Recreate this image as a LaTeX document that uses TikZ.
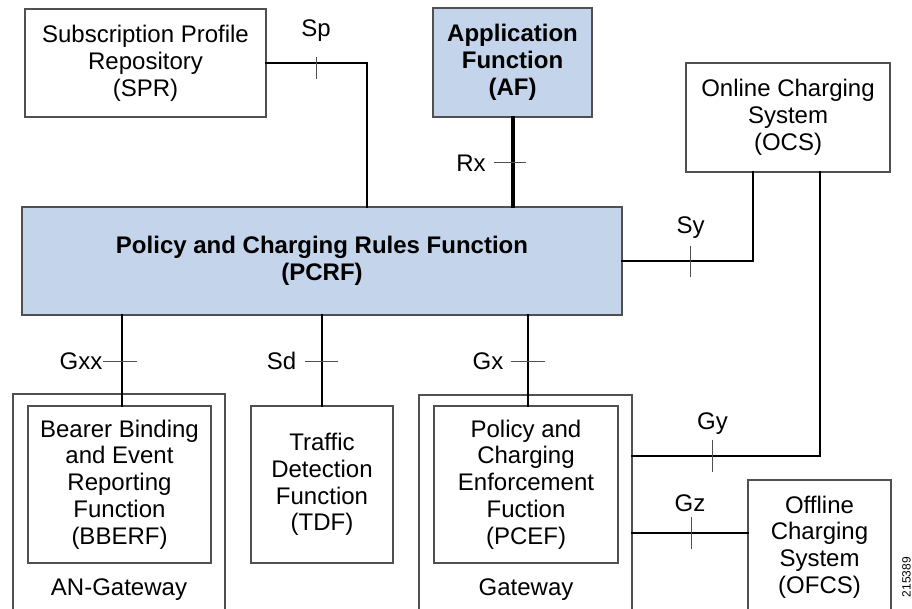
\documentclass[tikz,border=0pt]{standalone}
\usepackage{fontspec}
\setmainfont{Liberation Sans}
\usepackage{xcolor}
\usepackage{tikz}
\definecolor{pcrfblue}{HTML}{C4D5EB}
\definecolor{boxgray}{HTML}{505050}

\begin{document}
\begin{tikzpicture}[x=1pt, y=-1pt, box/.style={draw=boxgray, line width=1.2pt, align=center, inner sep=0pt, font=\fontsize{24}{26.8}\selectfont}, func/.style={box, fill=pcrfblue, font=\fontsize{24}{26.8}\selectfont\bfseries}, link/.style={line width=2.8pt, line cap=rect}, tick/.style={line width=1pt, draw=boxgray}, lbl/.style={font=\fontsize{24}{26.8}\selectfont, inner sep=0pt, text height=17pt, text depth=0pt}]
	\clip (0,0) rectangle (912,609);
	% functions
	\node[box, minimum width=241pt, minimum height=108pt] (spr) at (145.5,63) {Subscription Profile\\Repository\\(SPR)};
	\node[func, minimum width=159pt, minimum height=109pt] (af) at (512.5,62.5) {Application\\Function\\(AF)};
	\node[box, minimum width=204pt, minimum height=109pt] (ocs) at (788,117.5) {Online Charging\\System\\(OCS)};
	\node[func, minimum width=600pt, minimum height=108pt] (pcrf) at (322,261) {Policy and Charging Rules Function\\(PCRF)};
	\node[box, minimum width=212pt, minimum height=230pt] (angw) at (119,509) {};
	\node[box, minimum width=213pt, minimum height=230pt] (gw) at (525.5,510) {};
	\node[box, minimum width=183pt, minimum height=157pt] (bberf) at (119.5,484.5) {Bearer Binding\\and Event\\Reporting\\Function\\(BBERF)};
	\node[box, minimum width=142pt, minimum height=157pt] (tdf) at (322,484.5) {Traffic\\Detection\\Function\\(TDF)};
	\node[box, minimum width=184pt, minimum height=157pt] (pcef) at (526,484.5) {Policy and\\Charging\\Enforcement\\Fuction\\(PCEF)};
	\node[box, minimum width=143pt, minimum height=134pt] (ofcs) at (819.5,547) {Offline\\Charging\\System\\(OFCS)};
	\node[lbl] (angwname) at (119,587) {AN-Gateway};
	\node[lbl] (gwname) at (526,587) {Gateway};
	% interfaces
	\draw[link] (spr.east) -| (pcrf.north -| 367,0);
	\draw[link, line width=4pt] (af.south) -- (pcrf.north -| af.south);
	\draw[link] (pcrf.east) -| (ocs.south -| 753,0);
	\draw[link] (ocs.south -| 820,0) |- (gw.east |- 0,456);
	\draw[link] (gw.east |- 0,533) -- (ofcs.west |- 0,533);
	\draw[link] (pcrf.south -| 122,0) -- (bberf.north -| 122,0);
	\draw[link] (pcrf.south -| tdf.north) -- (tdf.north);
	\draw[link] (pcrf.south -| 528,0) -- (pcef.north -| 528,0);
	\draw[tick] (316,57) -- (316,79);
	\draw[tick] (494,163) -- (526,163);
	\draw[tick] (690,246) -- (690,277);
	\draw[tick] (103,361) -- (137,361);
	\draw[tick] (305,361) -- (338,361);
	\draw[tick] (511,361) -- (545,361);
	\draw[tick] (712,440) -- (712,472);
	\draw[tick] (691,517) -- (691,549);
	\node[lbl] (sp) at (316,28.5) {Sp};
	\node[lbl] (rx) at (471,163) {Rx};
	\node[lbl] (sy) at (690.5,225.5) {Sy};
	\node[lbl] (gxx) at (81,361) {Gxx};
	\node[lbl] (sd) at (281.5,361) {Sd};
	\node[lbl] (gx) at (488,361) {Gx};
	\node[lbl] (gy) at (712.5,420.5) {Gy};
	\node[lbl] (gz) at (690,502.5) {Gz};
	\node[rotate=90, anchor=base east, inner sep=0pt, font=\fontsize{12}{12}\selectfont] (fignum) at (910.5,557) {215389};
\end{tikzpicture}
\end{document}
